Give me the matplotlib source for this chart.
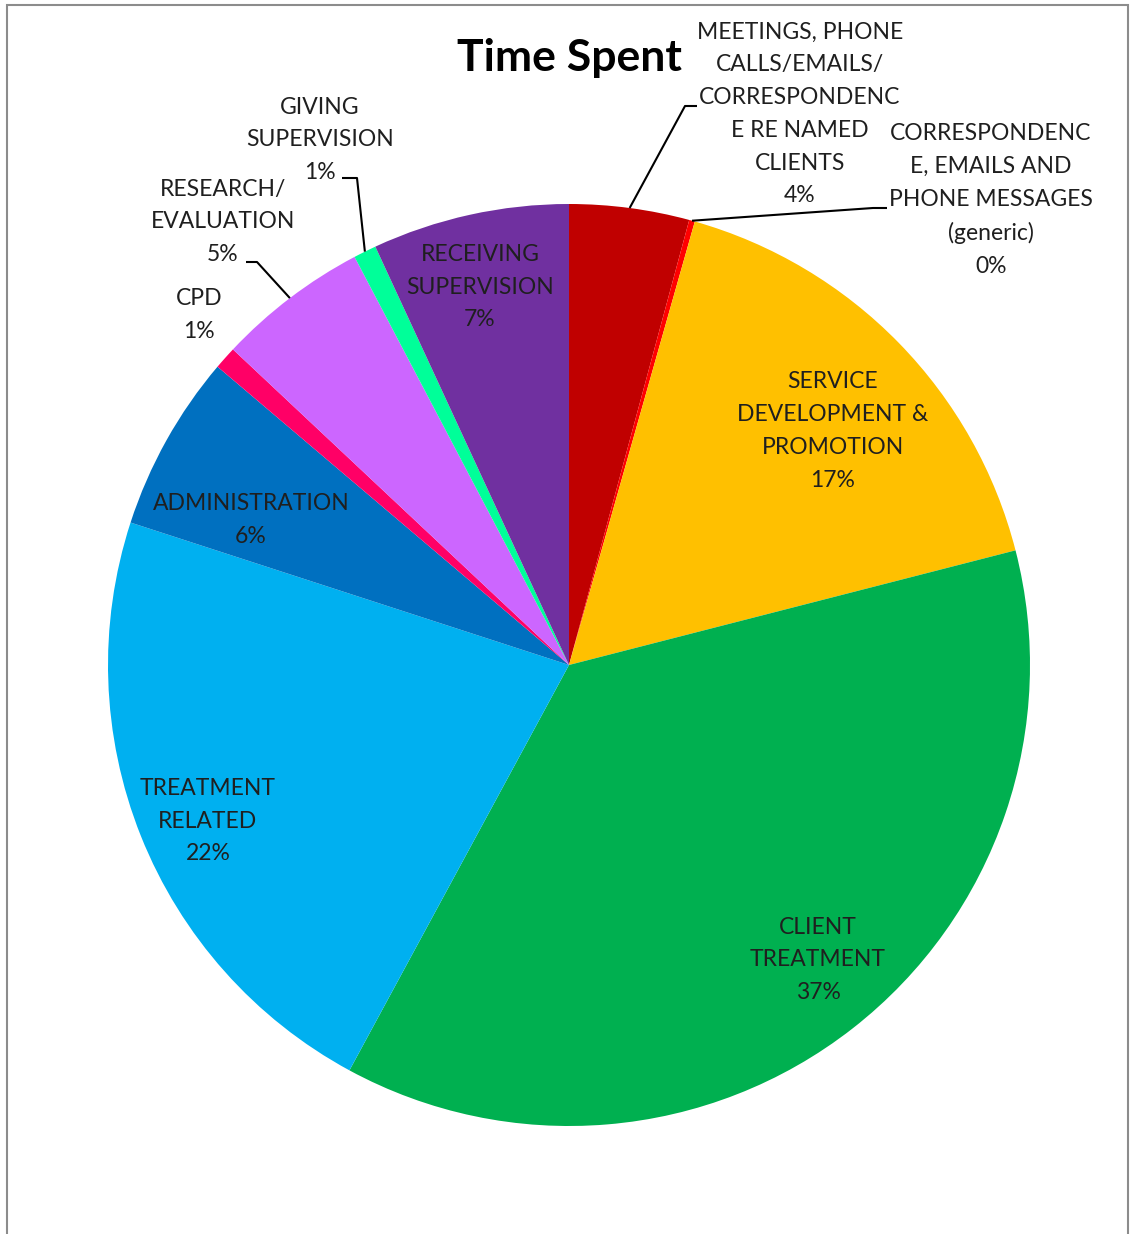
import numpy as np
import matplotlib.pyplot as plt
from matplotlib.patches import Rectangle

plt.rcParams['font.family'] = ['Lato', 'DejaVu Sans']

# time spent per activity, in percent of total
activities = [
    "MEETINGS, PHONE\nCALLS/EMAILS/\nCORRESPONDENC\nE RE NAMED\nCLIENTS",
    "CORRESPONDENC\nE, EMAILS AND\nPHONE MESSAGES\n(generic)",
    "SERVICE\nDEVELOPMENT &\nPROMOTION",
    "CLIENT\nTREATMENT",
    "TREATMENT\nRELATED",
    "ADMINISTRATION",
    "CPD",
    "RESEARCH/\nEVALUATION",
    "GIVING\nSUPERVISION",
    "RECEIVING\nSUPERVISION",
]
shares = [4.2, 0.2, 16.6, 36.9, 22.1, 6.2, 0.8, 5.3, 0.8, 6.9]
colors = ['#C00000', '#FF0000', '#FFC000', '#00B050', '#00B0F0',
          '#0070C0', '#FF0066', '#CC66FF', '#00FF99', '#7030A0']

W, H = 1131, 1234
fig = plt.figure(figsize=(W / 100, H / 100), dpi=100)
ax = fig.add_axes([0, 0, 1, 1])

cx, cy, r = 569, H - 665, 461
wedges, _ = ax.pie(shares, colors=colors, startangle=90, counterclock=False,
                   center=(cx, cy), radius=r, wedgeprops=dict(linewidth=0))
ax.set_xlim(0, W)
ax.set_ylim(0, H)
ax.axis('off')

# label block centres (pixels from top-left)
label_pos = [(800, 114), (991, 200), (833, 431), (818, 960), (208, 821),
             (251, 520), (199, 315), (223, 222), (320, 140), (480, 287)]
# leader elbows for the labels that sit outside the pie
leaders = {
    0: [(685, 106), (697, 106)],
    1: [(873, 208), (887, 208)],
    7: [(257, 262), (246, 262)],
    8: [(357, 178), (342, 178)],
}

for i, (name, v) in enumerate(zip(activities, shares)):
    x, y = label_pos[i]
    ax.text(x, H - y, f"{name}\n{v:.0f}%", ha='center', va='center',
            fontsize=16.5, linespacing=1.69, color='#1f1f1f')
    if i in leaders:
        w = wedges[i]
        a = np.deg2rad((w.theta1 + w.theta2) / 2)
        xs = [cx + r * np.cos(a)] + [p[0] for p in leaders[i]]
        ys = [cy + r * np.sin(a)] + [H - p[1] for p in leaders[i]]
        ax.plot(xs, ys, color='black', lw=1.5, solid_capstyle='butt')

ax.text(569, H - 58, "Time Spent", ha='center', va='center',
        fontsize=32, fontweight='bold', color='black')

fig.patches.append(Rectangle((7, -20), 1121, H - 5 + 20, transform=None,
                             fill=False, edgecolor='#8c8c8c', lw=1.5))

fig.savefig("out.png", dpi=100)
